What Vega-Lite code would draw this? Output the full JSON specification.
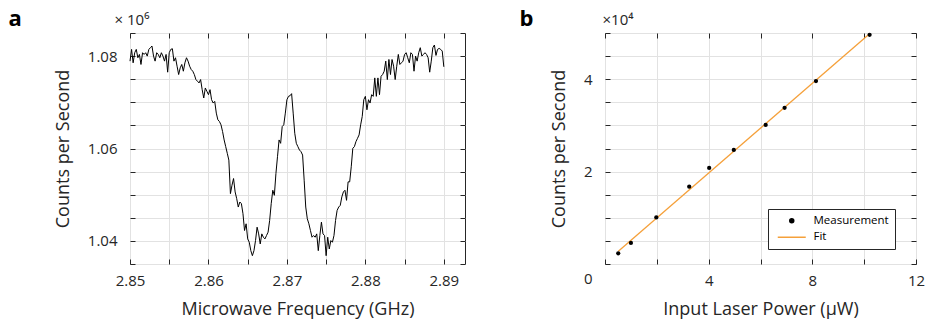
{
  "$schema": "https://vega.github.io/schema/vega-lite/v6.json",
  "background": "white",
  "padding": {"left": 7, "top": 6, "right": 5, "bottom": 5},
  "bounds": "flush",
  "spacing": 140,
  "config": {
    "font": "Open Sans",
    "view": {"stroke": "#262626", "strokeWidth": 1},
    "axis": {
      "domain": false,
      "grid": true,
      "gridColor": "#e2e2e2",
      "gridWidth": 1,
      "tickColor": "#262626",
      "tickSize": -5,
      "labelColor": "#262626",
      "labelFontSize": 15,
      "labelOverlap": false,
      "labelFlush": false,
      "titleColor": "#262626",
      "titleFontSize": 18,
      "titleFontWeight": "normal"
    },
    "axisX": {"labelPadding": 14, "titlePadding": 12},
    "axisY": {"labelPadding": 18, "titlePadding": 15}
  },
  "datasets": {
    "odmr": [
      {"f":2.8500,"cps":1078910},{"f":2.8502,"cps":1081450},{"f":2.8504,"cps":1078550},{"f":2.8506,"cps":1080730},{"f":2.8508,"cps":1081450},
      {"f":2.8510,"cps":1079640},{"f":2.8512,"cps":1080360},{"f":2.8514,"cps":1078190},{"f":2.8516,"cps":1080730},{"f":2.8518,"cps":1080360},
      {"f":2.8520,"cps":1080730},{"f":2.8522,"cps":1080000},{"f":2.8524,"cps":1081450},{"f":2.8526,"cps":1081820},{"f":2.8528,"cps":1082180},
      {"f":2.8530,"cps":1080000},{"f":2.8532,"cps":1078910},{"f":2.8534,"cps":1080730},{"f":2.8536,"cps":1080360},{"f":2.8538,"cps":1079640},
      {"f":2.8540,"cps":1080730},{"f":2.8542,"cps":1080000},{"f":2.8544,"cps":1078910},{"f":2.8546,"cps":1080360},{"f":2.8548,"cps":1076520},
      {"f":2.8550,"cps":1080730},{"f":2.8552,"cps":1081450},{"f":2.8554,"cps":1081600},{"f":2.8556,"cps":1078910},{"f":2.8558,"cps":1079640},
      {"f":2.8560,"cps":1077820},{"f":2.8562,"cps":1076010},{"f":2.8564,"cps":1077460},{"f":2.8566,"cps":1078190},{"f":2.8568,"cps":1076730},
      {"f":2.8570,"cps":1078550},{"f":2.8572,"cps":1079640},{"f":2.8574,"cps":1078910},{"f":2.8576,"cps":1077820},{"f":2.8578,"cps":1077100},
      {"f":2.8580,"cps":1076730},{"f":2.8582,"cps":1076010},{"f":2.8584,"cps":1074920},{"f":2.8586,"cps":1074560},{"f":2.8588,"cps":1074190},
      {"f":2.8590,"cps":1074920},{"f":2.8592,"cps":1072740},{"f":2.8594,"cps":1070930},{"f":2.8596,"cps":1073100},{"f":2.8598,"cps":1072380},
      {"f":2.8600,"cps":1071650},{"f":2.8602,"cps":1072740},{"f":2.8604,"cps":1070560},{"f":2.8606,"cps":1069840},{"f":2.8608,"cps":1070200},
      {"f":2.8610,"cps":1067660},{"f":2.8612,"cps":1066210},{"f":2.8614,"cps":1065840},{"f":2.8616,"cps":1065120},{"f":2.8618,"cps":1063670},
      {"f":2.8620,"cps":1061850},{"f":2.8622,"cps":1060400},{"f":2.8624,"cps":1058950},{"f":2.8626,"cps":1057490},{"f":2.8628,"cps":1050230},
      {"f":2.8630,"cps":1052050},{"f":2.8632,"cps":1053500},{"f":2.8634,"cps":1050600},{"f":2.8636,"cps":1049150},{"f":2.8638,"cps":1047330},
      {"f":2.8640,"cps":1048420},{"f":2.8642,"cps":1048060},{"f":2.8644,"cps":1045880},{"f":2.8646,"cps":1042250},{"f":2.8648,"cps":1043700},
      {"f":2.8650,"cps":1040430},{"f":2.8652,"cps":1039710},{"f":2.8654,"cps":1037890},{"f":2.8656,"cps":1036800},{"f":2.8658,"cps":1037890},
      {"f":2.8660,"cps":1040070},{"f":2.8662,"cps":1042970},{"f":2.8664,"cps":1041520},{"f":2.8666,"cps":1039340},{"f":2.8668,"cps":1041520},
      {"f":2.8670,"cps":1040800},{"f":2.8672,"cps":1040430},{"f":2.8674,"cps":1041160},{"f":2.8676,"cps":1041890},{"f":2.8678,"cps":1044430},
      {"f":2.8680,"cps":1048060},{"f":2.8682,"cps":1050960},{"f":2.8684,"cps":1049870},{"f":2.8686,"cps":1054590},{"f":2.8688,"cps":1058220},
      {"f":2.8690,"cps":1061850},{"f":2.8692,"cps":1061120},{"f":2.8694,"cps":1064750},{"f":2.8696,"cps":1065120},{"f":2.8698,"cps":1067660},
      {"f":2.8700,"cps":1070560},{"f":2.8702,"cps":1071290},{"f":2.8704,"cps":1071430},{"f":2.8706,"cps":1071870},{"f":2.8708,"cps":1067660},
      {"f":2.8710,"cps":1063300},{"f":2.8712,"cps":1061120},{"f":2.8714,"cps":1060400},{"f":2.8716,"cps":1059670},{"f":2.8718,"cps":1059310},
      {"f":2.8720,"cps":1058580},{"f":2.8722,"cps":1053140},{"f":2.8724,"cps":1047330},{"f":2.8726,"cps":1044790},{"f":2.8728,"cps":1043700},
      {"f":2.8730,"cps":1042250},{"f":2.8732,"cps":1040800},{"f":2.8734,"cps":1041160},{"f":2.8736,"cps":1040800},{"f":2.8738,"cps":1041520},
      {"f":2.8740,"cps":1037890},{"f":2.8742,"cps":1041160},{"f":2.8744,"cps":1044060},{"f":2.8746,"cps":1041520},{"f":2.8748,"cps":1041160},
      {"f":2.8750,"cps":1036800},{"f":2.8752,"cps":1040800},{"f":2.8754,"cps":1038250},{"f":2.8756,"cps":1040070},{"f":2.8758,"cps":1039710},
      {"f":2.8760,"cps":1041160},{"f":2.8762,"cps":1044430},{"f":2.8764,"cps":1046600},{"f":2.8766,"cps":1047330},{"f":2.8768,"cps":1047690},
      {"f":2.8770,"cps":1049510},{"f":2.8772,"cps":1050600},{"f":2.8774,"cps":1050960},{"f":2.8776,"cps":1048780},{"f":2.8778,"cps":1052780},
      {"f":2.8780,"cps":1052780},{"f":2.8782,"cps":1056040},{"f":2.8784,"cps":1060040},{"f":2.8786,"cps":1060400},{"f":2.8788,"cps":1061490},
      {"f":2.8790,"cps":1062210},{"f":2.8792,"cps":1062940},{"f":2.8794,"cps":1065120},{"f":2.8796,"cps":1066930},{"f":2.8798,"cps":1070560},
      {"f":2.8800,"cps":1071290},{"f":2.8802,"cps":1068380},{"f":2.8804,"cps":1070560},{"f":2.8806,"cps":1069840},{"f":2.8808,"cps":1071650},
      {"f":2.8810,"cps":1071290},{"f":2.8812,"cps":1075280},{"f":2.8814,"cps":1071290},{"f":2.8816,"cps":1075280},{"f":2.8818,"cps":1071650},
      {"f":2.8820,"cps":1075640},{"f":2.8822,"cps":1076010},{"f":2.8824,"cps":1076730},{"f":2.8826,"cps":1078910},{"f":2.8828,"cps":1074920},
      {"f":2.8830,"cps":1079270},{"f":2.8832,"cps":1076010},{"f":2.8834,"cps":1079270},{"f":2.8836,"cps":1077820},{"f":2.8838,"cps":1074920},
      {"f":2.8840,"cps":1077820},{"f":2.8842,"cps":1080360},{"f":2.8844,"cps":1078190},{"f":2.8846,"cps":1078550},{"f":2.8848,"cps":1078910},
      {"f":2.8850,"cps":1080360},{"f":2.8852,"cps":1080730},{"f":2.8854,"cps":1079640},{"f":2.8856,"cps":1078550},{"f":2.8858,"cps":1080730},
      {"f":2.8860,"cps":1080360},{"f":2.8862,"cps":1076730},{"f":2.8864,"cps":1080000},{"f":2.8866,"cps":1078910},{"f":2.8868,"cps":1080730},
      {"f":2.8870,"cps":1081820},{"f":2.8872,"cps":1080000},{"f":2.8874,"cps":1080360},{"f":2.8876,"cps":1080730},{"f":2.8878,"cps":1080360},
      {"f":2.8880,"cps":1079640},{"f":2.8882,"cps":1076520},{"f":2.8884,"cps":1078910},{"f":2.8886,"cps":1081820},{"f":2.8888,"cps":1082400},
      {"f":2.8890,"cps":1080150},{"f":2.8892,"cps":1081450},{"f":2.8894,"cps":1081670},{"f":2.8896,"cps":1081450},{"f":2.8898,"cps":1081090},
      {"f":2.8900,"cps":1077680}
    ],
    "fit": [
      {"p": 0.514, "c": 2750, "series": "Fit"},
      {"p": 10.21, "c": 49860, "series": "Fit"}
    ],
    "meas": [
      {"p": 0.51, "c": 2320, "series": "Measurement"},
      {"p": 1.00, "c": 4570, "series": "Measurement"},
      {"p": 1.98, "c": 10070, "series": "Measurement"},
      {"p": 3.25, "c": 16740, "series": "Measurement"},
      {"p": 4.02, "c": 20800, "series": "Measurement"},
      {"p": 4.97, "c": 24700, "series": "Measurement"},
      {"p": 6.20, "c": 30100, "series": "Measurement"},
      {"p": 6.93, "c": 33800, "series": "Measurement"},
      {"p": 8.14, "c": 39600, "series": "Measurement"},
      {"p": 10.21, "c": 49600, "series": "Measurement"}
    ]
  },
  "hconcat": [
    {
      "width": 335,
      "height": 231,
      "data": {"name": "odmr"},
      "resolve": {"axis": {"x": "independent", "y": "independent"}},
      "layer": [
        {
          "mark": {"type": "line", "color": "black", "strokeWidth": 1},
          "encoding": {
            "x": {
              "field": "f",
              "type": "quantitative",
              "scale": {"domain": [2.85, 2.8927], "nice": false, "zero": false},
              "axis": {
                "orient": "bottom",
                "title": "Microwave Frequency (GHz)",
                "values": [2.85, 2.855, 2.86, 2.865, 2.87, 2.875, 2.88, 2.885, 2.89],
                "labelExpr": "round(datum.value*1000) % 10 === 0 ? format(datum.value, '.2f') : ''"
              }
            },
            "y": {
              "field": "cps",
              "type": "quantitative",
              "scale": {"domain": [1035000, 1085000], "nice": false, "zero": false},
              "axis": {
                "orient": "left",
                "title": "Counts per Second",
                "values": [1035000, 1040000, 1045000, 1050000, 1055000, 1060000, 1065000, 1070000, 1075000, 1080000, 1085000],
                "labelExpr": "round(datum.value/1000) % 20 === 0 ? format(datum.value/1000000, '.2f') : ''"
              }
            }
          }
        },
        {
          "mark": {"type": "line", "opacity": 0},
          "encoding": {
            "x": {
              "field": "f",
              "type": "quantitative",
              "axis": {
                "orient": "top",
                "values": [2.85, 2.855, 2.86, 2.865, 2.87, 2.875, 2.88, 2.885, 2.89],
                "labels": false,
                "grid": false,
                "title": "\u00d7 10\u2076",
                "titleX": -16,
                "titleY": -9,
                "titleAlign": "left",
                "titleBaseline": "alphabetic",
                "titleFontSize": 15
              }
            },
            "y": {
              "field": "cps",
              "type": "quantitative",
              "axis": {
                "orient": "right",
                "values": [1035000, 1040000, 1045000, 1050000, 1055000, 1060000, 1065000, 1070000, 1075000, 1080000, 1085000],
                "labels": false,
                "grid": false,
                "title": "a",
                "titleAngle": 0,
                "titleX": -457,
                "titleY": -8,
                "titleAlign": "left",
                "titleBaseline": "alphabetic",
                "titleFontSize": 22,
                "titleFontWeight": "bold",
                "titleColor": "black"
              }
            }
          }
        }
      ]
    },
    {
      "width": 311,
      "height": 231,
      "resolve": {"axis": {"x": "independent", "y": "independent"}},
      "layer": [
        {
          "data": {"name": "fit"},
          "mark": {"type": "line", "strokeWidth": 1.3},
          "encoding": {
            "x": {
              "field": "p",
              "type": "quantitative",
              "scale": {"domain": [0, 12], "nice": false, "zero": false},
              "axis": {
                "orient": "bottom",
                "title": "Input Laser Power (\u00b5W)",
                "values": [0, 2, 4, 6, 8, 10, 12],
                "labelExpr": "datum.value % 4 === 0 && datum.value > 0 ? datum.label : ''"
              }
            },
            "y": {
              "field": "c",
              "type": "quantitative",
              "scale": {"domain": [0, 50000], "nice": false, "zero": false},
              "axis": {
                "orient": "left",
                "title": "Counts per Second",
                "values": [0, 5000, 10000, 15000, 20000, 25000, 30000, 35000, 40000, 45000, 50000],
                "labelExpr": "datum.value % 20000 === 0 ? format(datum.value/10000, 'd') : ''",
                "labelOffset": {"condition": {"test": "datum.value === 0", "value": 14}, "value": 0}
              }
            },
            "color": {
              "field": "series",
              "type": "nominal",
              "scale": {"domain": ["Measurement", "Fit"], "range": ["black", "#F5A03A"]},
              "legend": {
                "orient": "none",
                "legendX": 638,
                "legendY": 176,
                "title": null,
                "padding": 6,
                "strokeColor": "#262626",
                "fillColor": "white",
                "labelFontSize": 11.5,
                "labelColor": "black",
                "symbolSize": 16,
                "symbolOffset": 12,
                "labelOffset": 16,
                "rowPadding": 3.5,
                "cornerRadius": 0,
                "encode": {
                  "symbols": {
                    "update": {
                      "shape": {"signal": "datum.value === 'Fit' ? 'stroke' : 'circle'"},
                      "size": {"signal": "datum.value === 'Fit' ? 784 : 16"},
                      "fill": {"signal": "datum.value === 'Fit' ? 'transparent' : 'black'"},
                      "stroke": {"signal": "datum.value === 'Fit' ? '#F5A03A' : 'transparent'"},
                      "strokeWidth": {"value": 1.5},
                      "opacity": {"value": 1}
                    }
                  }
                }
              }
            }
          }
        },
        {
          "data": {"name": "meas"},
          "mark": {"type": "point", "filled": true, "size": 18, "opacity": 1},
          "encoding": {
            "x": {"field": "p", "type": "quantitative", "axis": null},
            "y": {"field": "c", "type": "quantitative", "axis": null},
            "color": {"field": "series", "type": "nominal"}
          }
        },
        {
          "data": {"name": "meas"},
          "mark": {"type": "point", "opacity": 0},
          "encoding": {
            "x": {
              "field": "p",
              "type": "quantitative",
              "axis": {
                "orient": "top",
                "values": [0, 2, 4, 6, 8, 10, 12],
                "labels": false,
                "grid": false,
                "title": "\u00d710\u2074",
                "titleX": -3,
                "titleY": -9,
                "titleAlign": "left",
                "titleBaseline": "alphabetic",
                "titleFontSize": 15
              }
            },
            "y": {
              "field": "c",
              "type": "quantitative",
              "axis": {
                "orient": "right",
                "values": [0, 5000, 10000, 15000, 20000, 25000, 30000, 35000, 40000, 45000, 50000],
                "labels": false,
                "grid": false,
                "title": "b",
                "titleAngle": 0,
                "titleX": -397,
                "titleY": -8,
                "titleAlign": "left",
                "titleBaseline": "alphabetic",
                "titleFontSize": 22,
                "titleFontWeight": "bold",
                "titleColor": "black"
              }
            }
          }
        }
      ]
    }
  ]
}
